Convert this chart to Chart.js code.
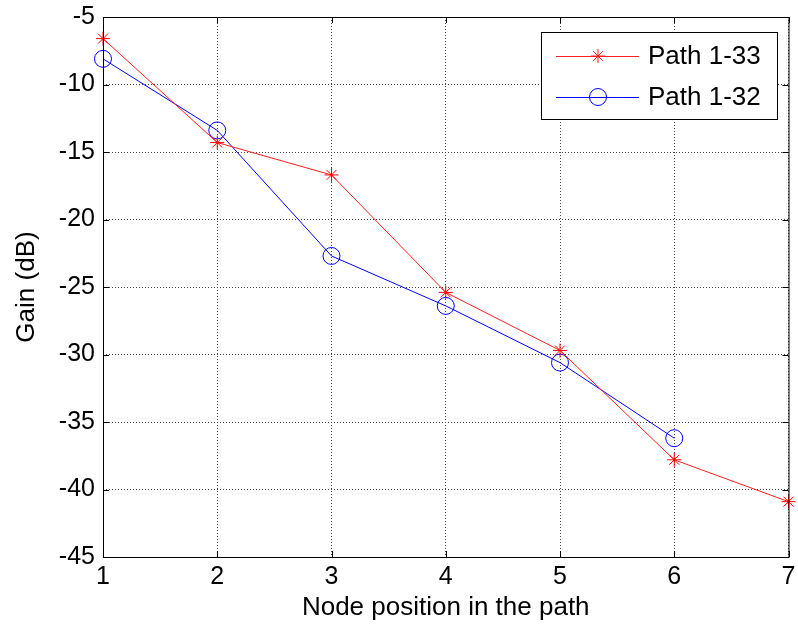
<!DOCTYPE html>
<html>
<head>
<meta charset="utf-8">
<script src="https://cdn.jsdelivr.net/npm/chart.js@4"></script>
<style>
  html, body { margin: 0; padding: 0; background: #fff; }
  #wrap { width: 798px; height: 631px; }
</style>
</head>
<body>
<div id="wrap"><canvas id="gain"></canvas></div>
<script>
// values
nodes = [1, 2, 3, 4, 5, 6, 7]
path133 = [-6.6, -14.3, -16.7, -25.4, -29.7, -37.8, -40.9]
path132 = [-8.1, -13.4, -22.7, -26.4, -30.6, -36.2]
yTicks = [-5, -10, -15, -20, -25, -30, -35, -40, -45]

FONT = "'Liberation Sans', Arial, sans-serif"

function toPoints(vals) {
    return vals.map((v, i) => ({ x: nodes[i], y: v }))
}

// box around the plot, inward ticks on all four sides, plus a matlab-style legend
boxPlugin = {
    id: 'box',
    afterDraw(chart) {
        ctx = chart.ctx
        a = chart.chartArea
        xs = chart.scales.x
        ys = chart.scales.y
        ctx.save()
        ctx.strokeStyle = '#000'
        ctx.lineWidth = 1
        ctx.strokeRect(a.left + 0.5, a.top + 0.5, a.right - a.left, a.bottom - a.top)
        ctx.beginPath()
        nodes.forEach((n) => {
            px = Math.round(xs.getPixelForValue(n)) + 0.5
            ctx.moveTo(px, a.bottom); ctx.lineTo(px, a.bottom - 6)
            ctx.moveTo(px, a.top); ctx.lineTo(px, a.top + 6)
        })
        yTicks.forEach((t) => {
            py = Math.round(ys.getPixelForValue(t)) + 0.5
            ctx.moveTo(a.left, py); ctx.lineTo(a.left + 6, py)
            ctx.moveTo(a.right, py); ctx.lineTo(a.right - 6, py)
        })
        ctx.stroke()

        // legend
        lx = 541, ly = 32, lw = 236, lh = 87
        ctx.fillStyle = '#fff'
        ctx.fillRect(lx, ly, lw, lh)
        ctx.strokeRect(lx + 0.5, ly + 0.5, lw, lh)
        ctx.font = '26px ' + FONT
        ctx.textBaseline = 'middle'
        chart.data.datasets.forEach((ds, i) => {
            cy = ly + 24 + i * 41
            ctx.strokeStyle = ds.borderColor
            ctx.lineWidth = 1
            ctx.beginPath()
            ctx.moveTo(556, cy + 0.5); ctx.lineTo(639, cy + 0.5)
            ctx.stroke()
            ctx.fillStyle = 'rgba(0,0,0,0)'
            Chart.helpers.drawPoint(ctx, {
                pointStyle: ds.pointStyle, radius: ds.pointRadius,
                borderWidth: 1, rotation: 0
            }, 598, cy)
            ctx.fillStyle = '#000'
            ctx.fillText(ds.label, 648, cy + 1)
        })
        ctx.restore()
    }
}

new Chart('gain', {
    type: 'line',
    data: {
        datasets: [
            {
                label: 'Path 1-33',
                data: toPoints(path133),
                borderColor: '#ff2020',
                backgroundColor: 'transparent',
                borderWidth: 1,
                pointStyle: 'star',
                pointRadius: 7,
                pointBorderColor: '#ff0000',
                pointBorderWidth: 1,
                clip: false
            },
            {
                label: 'Path 1-32',
                data: toPoints(path132),
                borderColor: '#0000ff',
                backgroundColor: 'transparent',
                borderWidth: 1,
                pointStyle: 'circle',
                pointRadius: 8.5,
                pointBorderColor: '#0000ff',
                pointBackgroundColor: 'transparent',
                pointBorderWidth: 1,
                clip: false
            }
        ]
    },
    options: {
        responsive: true,
        maintainAspectRatio: false,
        animation: false,
        layout: { padding: { top: 17, right: 9, left: 0, bottom: 0 } },
        plugins: {
            legend: { display: false },
            tooltip: { enabled: false }
        },
        scales: {
            x: {
                type: 'linear',
                min: 1, max: 7,
                afterFit: (s) => { s.height = 74; s.paddingLeft = 0; s.paddingRight = 0 },
                border: { display: false, dash: [1, 2] },
                grid: { color: '#444', drawTicks: false },
                ticks: {
                    stepSize: 1, padding: 8, color: '#000',
                    font: { family: FONT, size: 25, lineHeight: 1 }
                },
                title: {
                    display: true, text: 'Node position in the path', color: '#000',
                    font: { family: FONT, size: 26, lineHeight: 1 }, padding: 10
                }
            },
            y: {
                min: -45, max: -5,
                afterFit: (s) => { s.width = 103; s.paddingTop = 0; s.paddingBottom = 0 },
                border: { display: false, dash: [1, 2] },
                grid: { color: '#444', drawTicks: false },
                ticks: {
                    stepSize: 5, padding: 8, color: '#000',
                    font: { family: FONT, size: 25, lineHeight: 1 }
                },
                title: {
                    display: true, text: 'Gain (dB)', color: '#000',
                    font: { family: FONT, size: 26, lineHeight: 1 }, padding: 14
                }
            }
        }
    },
    plugins: [boxPlugin]
})
</script>
</body>
</html>
